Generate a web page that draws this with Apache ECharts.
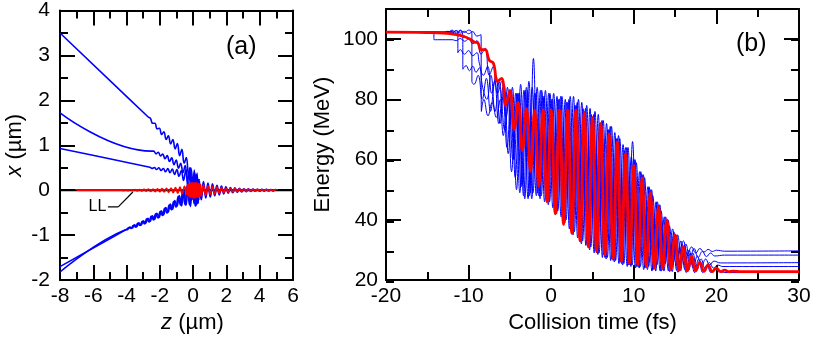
<!DOCTYPE html>
<html>
<head>
<meta charset="utf-8">
<script src="https://cdn.jsdelivr.net/npm/echarts@6/dist/echarts.min.js"></script>
<style>
  html, body { margin: 0; padding: 0; background: #fff; }
  #chart { width: 830px; height: 339px; }
</style>
</head>
<body>
<div id="chart"></div>
<script>
// ---- panel (a): trajectories x(z) ----
const aZeroLine = [[-8, 0], [6, 0]];

const aBlue1 = [[-8,3.5],[-2.7,1.63],[-2.57,1.60],[-2.43,1.49],[-2.3,1.49],[-2.16,1.365],[-2.03,1.38],[-1.89,1.24],[-1.76,1.30],[-1.62,1.13],[-1.49,1.21],[-1.35,1.03],[-1.22,1.13],[-1.08,0.92],[-0.95,1.04],[-0.81,0.77],[-0.68,0.91],[-0.54,0.60],[-0.41,0.73],[-0.27,0.34],[-0.14,0.5],[0,0.0],[0.07,0.45],[0.14,-0.35],[0.21,0.35],[0.28,-0.3],[0.35,0.25]];
const aBlue2 = [[-8,1.72],[-2.5,0.87],[-2.37,0.87],[-2.23,0.81],[-2.1,0.845],[-1.96,0.765],[-1.83,0.805],[-1.69,0.70],[-1.56,0.77],[-1.42,0.64],[-1.29,0.72],[-1.15,0.57],[-1.02,0.67],[-0.88,0.49],[-0.75,0.60],[-0.61,0.39],[-0.48,0.55],[-0.34,0.2],[-0.21,0.5],[-0.07,-0.1],[0.06,0.4],[0.13,-0.32],[0.2,0.35],[0.27,-0.28],[0.34,0.2]];
const aBlue3 = [[-8,0.93],[-2.6,0.51],[-2.47,0.485],[-2.33,0.505],[-2.2,0.46],[-2.06,0.50],[-1.93,0.44],[-1.79,0.485],[-1.66,0.41],[-1.52,0.48],[-1.39,0.39],[-1.25,0.47],[-1.12,0.35],[-0.98,0.46],[-0.85,0.31],[-0.71,0.44],[-0.58,0.22],[-0.44,0.45],[-0.31,0.05],[-0.17,0.45],[-0.04,-0.2],[0.1,0.4],[0.17,-0.35],[0.24,0.38],[0.31,-0.28],[0.38,0.2]];
const aBlue4 = [[-8,-1.70],[-4,-0.87],[-3.87,-0.835],[-3.73,-0.85],[-3.6,-0.785],[-3.46,-0.82],[-3.33,-0.737],[-3.19,-0.786],[-3.06,-0.69],[-2.92,-0.752],[-2.79,-0.635],[-2.65,-0.707],[-2.52,-0.58],[-2.38,-0.662],[-2.25,-0.525],[-2.11,-0.617],[-1.98,-0.475],[-1.84,-0.563],[-1.71,-0.404],[-1.57,-0.509],[-1.44,-0.328],[-1.3,-0.436],[-1.17,-0.25],[-1.03,-0.375],[-0.9,-0.14],[-0.76,-0.33],[-0.63,-0.02],[-0.49,-0.32],[-0.36,0.1],[-0.22,-0.33],[-0.09,0.25],[0.05,-0.3],[0.12,0.35],[0.19,-0.33],[0.26,0.3],[0.33,-0.22]];
const aBlue5 = [[-8,-1.82],[-4.07,-0.88],[-3.93,-0.872],[-3.8,-0.822],[-3.66,-0.842],[-3.53,-0.772],[-3.4,-0.812],[-3.26,-0.725],[-3.13,-0.778],[-2.99,-0.68],[-2.86,-0.738],[-2.72,-0.624],[-2.59,-0.693],[-2.45,-0.569],[-2.32,-0.648],[-2.18,-0.514],[-2.05,-0.603],[-1.91,-0.459],[-1.78,-0.549],[-1.64,-0.388],[-1.51,-0.49],[-1.37,-0.306],[-1.24,-0.423],[-1.1,-0.228],[-0.97,-0.357],[-0.83,-0.12],[-0.7,-0.35],[-0.56,0.0],[-0.43,-0.34],[-0.29,0.15],[-0.16,-0.36],[-0.02,0.3],[0.12,-0.35],[0.19,0.35],[0.26,-0.3],[0.33,0.25]];
const aBlueTail = [[0.35,0.2],[0.49,-0.21],[0.62,0.19],[0.76,-0.17],[0.89,0.16],[1.03,-0.15],[1.16,0.14],[1.3,-0.12],[1.43,0.11],[1.57,-0.1],[1.7,0.09],[1.84,-0.08],[1.97,0.075],[2.11,-0.065],[2.24,0.06],[2.38,-0.055],[2.51,0.05],[2.65,-0.045],[2.78,0.04],[2.92,-0.035],[3.05,0.032],[3.19,-0.03],[3.32,0.028],[3.46,-0.026],[3.59,0.024],[3.73,-0.022],[3.86,0.02],[4.0,-0.02],[4.13,0.018],[4.27,-0.018],[4.4,0.016],[4.54,-0.016],[4.67,0.015],[4.81,-0.015],[4.94,0.014],[5.0,0]];
const aRed = [[-7,0],[-4.3,0],[-4.17,-0.007],[-4.03,0.009],[-3.9,-0.01],[-3.76,0.012],[-3.63,-0.012],[-3.49,0.014],[-3.36,-0.016],[-3.22,0.017],[-3.09,-0.018],[-2.95,0.02],[-2.82,-0.022],[-2.68,0.024],[-2.55,-0.026],[-2.41,0.028],[-2.28,-0.03],[-2.14,0.033],[-2.01,-0.035],[-1.87,0.038],[-1.74,-0.04],[-1.6,0.044],[-1.47,-0.047],[-1.33,0.05],[-1.2,-0.055],[-1.06,0.06],[-0.93,-0.065],[-0.79,0.07],[-0.66,-0.078],[-0.52,0.085],[-0.39,-0.095],[-0.35,0.12],[-0.31,-0.13],[-0.27,0.15],[-0.23,-0.15],[-0.19,0.16],[-0.15,-0.16],[-0.11,0.17],[-0.07,-0.17],[-0.03,0.17],[0.01,-0.17],[0.05,0.17],[0.09,-0.17],[0.13,0.17],[0.17,-0.17],[0.21,0.17],[0.25,-0.16],[0.29,0.16],[0.33,-0.15],[0.37,0.15],[0.41,-0.14],[0.45,0.14],[0.49,-0.13],[0.62,0.12],[0.76,-0.11],[0.89,0.1],[1.03,-0.09],[1.16,0.085],[1.3,-0.08],[1.43,0.07],[1.57,-0.065],[1.7,0.06],[1.84,-0.055],[1.97,0.05],[2.11,-0.045],[2.24,0.042],[2.38,-0.04],[2.51,0.036],[2.65,-0.034],[2.78,0.031],[2.92,-0.029],[3.05,0.027],[3.19,-0.025],[3.32,0.023],[3.46,-0.022],[3.59,0.021],[3.73,-0.02],[3.86,0.019],[4.0,-0.018],[4.13,0.017],[4.27,-0.016],[4.4,0.015],[4.54,-0.015],[4.67,0.014],[4.81,-0.014],[4.94,0.013],[5.0,0]];

// "LL" pointer in data coordinates
const aLLText = [-5.75, -0.36];
const aLLLeader = [[-5.12, -0.37], [-4.5, -0.37]];
const aLLArrow = [[-4.5, -0.37], [-3.62, -0.04]];

// ---- panel (b): energy vs collision time ----
const bRed = [[-20,102.3],[-15,102.2],[-13,102],[-11.5,101.5],[-10.5,100.8],[-9.8,100],[-9.3,99],[-8.9,98.8],[-8.5,96.5],[-8,96.5],[-7.5,93],[-7,92],[-6.5,86],[-6,87],[-5.5,78],[-5,83],[-4.5,70],[-4,79],[-3.5,63],[-3,77],[-2.5,56],[-2,76.5],[-1.5,51],[-1,76.5],[-0.5,46],[0,76.5],[0.5,42],[1,76.5],[1.5,38.5],[2,76.5],[2.5,35.5],[3,76.5],[3.5,33],[4,75.5],[4.5,31],[5,74],[5.5,29.5],[6,72],[6.5,28.3],[7,68.5],[7.5,27.2],[8,66],[8.5,26.3],[9,62],[9.5,25.5],[10,58],[10.5,25],[11,54],[11.5,24.5],[12,49],[12.5,24],[13,44.5],[13.5,23.8],[14,40],[14.5,23.5],[15,35],[15.5,23.3],[16,31],[16.5,23.1],[17,28],[17.5,23],[18,26],[18.5,22.9],[19,25],[19.5,22.8],[20,24],[20.5,22.8],[21,23.3],[21.5,22.8],[22,23],[23,22.8],[30,22.8]];
const bBlue1 = [[-20,102.3],[-14.2,102.3],[-14.2,99.8],[-12,99.8],[-11.5,99.5],[-11,100.2],[-10.5,99.3],[-10,100],[-9.5,98.5],[-9,99.5],[-8.5,95],[-8,97],[-7.5,88],[-7,91],[-6.5,82],[-6,86],[-5.5,74],[-5,83],[-4.5,60],[-4,82],[-3.5,52],[-3,84],[-2.5,49],[-2,82],[-1.5,48],[-1,81],[-0.5,47],[0,80],[0.5,45],[1,80],[1.5,41],[2,79],[2.5,37],[3,78],[3.5,34],[4,76],[4.5,31],[5,74],[5.5,29],[6,72],[6.5,27.5],[7,70],[7.5,26.5],[8,67],[8.5,25.5],[9,64],[9.5,25],[10,60],[10.5,24.5],[11,55],[11.5,25],[12,50],[12.5,26],[13,45],[13.5,27],[14,40],[14.5,28],[15,35],[15.5,29],[16,33],[16.5,28.5],[17,31],[17.5,29],[18,30.5],[18.5,29.3],[19,30.2],[19.5,29.5],[20,29.9],[21,29.6],[30,29.7]];
const bBlue2 = [[-20,102.3],[-13,102.3],[-12.5,102.6],[-12,102],[-11.5,102.8],[-11.3,102.3],[-11.3,95.5],[-11,96.5],[-10.5,95],[-10,96.2],[-9.5,94.5],[-9,95.5],[-8.7,92],[-8.2,88],[-7.7,91],[-7.2,82],[-6.7,88],[-6.2,72],[-5.7,85],[-5.2,62],[-4.7,84],[-4.2,50],[-3.7,85],[-3.2,47],[-2.7,86],[-2.2,49],[-1.7,84],[-1.2,48],[-0.7,83],[-0.2,46],[0.3,82],[0.8,43],[1.3,81],[1.8,40],[2.3,81],[2.8,36],[3.3,80],[3.8,33],[4.3,78],[4.8,31],[5.3,76],[5.8,29],[6.3,73],[6.8,27.5],[7.3,71],[7.8,26.5],[8.3,67],[8.8,25.5],[9.3,64],[9.8,25],[10.3,59],[10.8,24.5],[11.3,54],[11.8,24.5],[12.3,48],[12.8,25],[13.3,43],[13.8,25.5],[14.3,38],[14.8,26],[15.3,35],[15.8,26.5],[16.3,32],[16.8,27],[17.3,30.5],[17.8,27.5],[18.3,29.5],[18.8,27.8],[19.3,29],[19.8,28],[21,28.3],[30,28.3]];
const bBlue3 = [[-20,102.3],[-13,102.3],[-12,102.5],[-11.5,101.5],[-11,102.8],[-10.7,101],[-10.7,90],[-10.3,91.2],[-9.9,89.5],[-9.5,91],[-9.1,89],[-8.7,90.5],[-8.3,84],[-7.8,80],[-7.3,88],[-6.8,76],[-6.3,86],[-5.8,68],[-5.3,84],[-4.8,56],[-4.3,82],[-3.8,49],[-3.3,83],[-2.8,47],[-2.3,84],[-1.8,48],[-1.3,83],[-0.8,46],[-0.3,82],[0.2,44],[0.7,81],[1.2,41],[1.7,80],[2.2,37],[2.7,81],[3.2,34],[3.7,79],[4.2,31.5],[4.7,77],[5.2,29],[5.7,75],[6.2,27.5],[6.7,72],[7.2,26.5],[7.7,69],[8.2,25.5],[8.7,65],[9.2,24.5],[9.7,61],[10.2,24],[10.7,56],[11.2,23.5],[11.7,51],[12.2,23],[12.7,46],[13.2,23],[13.7,41],[14.2,23],[14.7,37],[15.2,23.2],[15.7,33],[16.2,23.5],[16.7,30],[17.2,24],[17.7,28],[18.2,24.5],[18.7,27],[19.2,25],[19.7,26.3],[20.5,25.7],[30,25.8]];
const bBlue4 = [[-20,102.3],[-12.5,102.3],[-12,103],[-11.5,102],[-11,103],[-10.5,102.2],[-10,103],[-9.6,102],[-9.6,86],[-9.35,85],[-8.85,88],[-8.35,80],[-7.85,87],[-7.35,76],[-6.85,86],[-6.35,72],[-5.85,84],[-5.35,64],[-4.85,83],[-4.35,54],[-3.85,82],[-3.35,48],[-2.85,83],[-2.35,47],[-1.85,82],[-1.35,47],[-0.85,81],[-0.35,45],[0.15,80],[0.65,42],[1.15,81],[1.65,39],[2.15,80],[2.65,35],[3.15,79],[3.65,32],[4.15,77],[4.65,30],[5.15,75],[5.65,28.5],[6.15,73],[6.65,27],[7.15,71],[7.65,26],[8.15,68],[8.65,25],[9.15,64],[9.65,24.5],[10.15,60],[10.65,24],[11.15,55],[11.65,23.5],[12.15,50],[12.65,23],[13.15,45],[13.65,23],[14.15,40],[14.65,22.8],[15.15,35],[15.65,23],[16.15,31.5],[16.65,23.2],[17.15,29],[17.65,23.5],[18.15,27],[18.65,23.8],[19.15,25.8],[19.65,24],[20.15,25],[20.8,24.5],[30,24.5]];
const bBlue5 = [[-20,102.3],[-12,102.3],[-11.5,102.8],[-11,102],[-10.5,102.6],[-10,101.8],[-9.5,102.5],[-9,101],[-8.5,101.5],[-8.45,76],[-8.15,80],[-7.65,74.5],[-7.15,79],[-6.65,74],[-6.15,80],[-5.65,70],[-5.15,81],[-4.65,60],[-4.15,82],[-3.65,51],[-3.15,83],[-2.65,48],[-2.15,93.6],[-1.65,49],[-1.15,83],[-0.65,47],[-0.15,82],[0.35,45],[0.85,80],[1.35,42],[1.85,79],[2.35,38],[2.85,78],[3.35,35],[3.85,77],[4.35,32],[4.85,75],[5.35,30],[5.85,72],[6.35,28.5],[6.85,70],[7.35,27],[7.85,67],[8.35,26],[8.85,63],[9.35,25],[9.85,66],[10.35,24.5],[10.85,56],[11.35,24],[11.85,51],[12.35,23.5],[12.85,46],[13.35,23],[13.85,41],[14.35,22.8],[14.85,36],[15.35,22.6],[15.85,32],[16.35,22.5],[16.85,29],[17.35,22.5],[17.85,27],[18.35,22.5],[18.85,25],[19.35,22.5],[19.85,24],[20.5,23],[21,22.5],[30,22.5]];

const FONT = "'Liberation Sans', Arial, Helvetica, sans-serif";
const BLUE = "#0000ff";
const RED = "#ff0000";

const chart = echarts.init(document.getElementById("chart"), null, { renderer: "canvas" });

const frameAxis = (extra) =>
  Object.assign(
    {
      type: "value",
      axisLine: { show: true, onZero: false, lineStyle: { color: "#000", width: 2 } },
      axisTick: { show: true, inside: true, length: 15, lineStyle: { color: "#000", width: 2 } },
      minorTick: { show: true, splitNumber: 2, length: 8, lineStyle: { color: "#000", width: 2 } },
      axisLabel: { show: false },
      splitLine: { show: false },
      minorSplitLine: { show: false },
    },
    extra
  );

const tickLabel = (margin) => ({
  show: true,
  fontSize: 21,
  color: "#000",
  fontFamily: FONT,
  margin: margin,
});

const nameStyle = {
  fontSize: 22,
  color: "#000",
  fontFamily: FONT,
  rich: {
    i: { fontSize: 22, fontStyle: "italic", fontFamily: FONT, color: "#000" },
    n: { fontSize: 22, fontFamily: FONT, color: "#000" },
    pad: { width: 32 },
  },
};

const line = (data, color, width, extra) =>
  Object.assign(
    {
      type: "line",
      data: data,
      showSymbol: false,
      symbol: "none",
      smooth: 0.45,
      lineStyle: { color: color, width: width },
      itemStyle: { color: color },
      silent: true,
    },
    extra
  );

const aGrid = { xAxisIndex: 0, yAxisIndex: 0 };
const bGrid = { xAxisIndex: 2, yAxisIndex: 2 };
const minorOnly = {
  axisLine: { show: false, onZero: false },
  minorTick: { show: false },
  axisTick: { show: true, inside: true, length: 8, lineStyle: { color: "#000", width: 2 } },
};

const option = {
  animation: false,
  backgroundColor: "#fff",
  title: [
    { text: "(a)", left: 226, top: 35, padding: 0, textStyle: { fontSize: 25, fontWeight: "normal", fontFamily: FONT, color: "#000" } },
    { text: "(b)", left: 736, top: 32, padding: 0, textStyle: { fontSize: 25, fontWeight: "normal", fontFamily: FONT, color: "#000" } },
  ],
  grid: [
    { left: 60, top: 10, width: 233, height: 272 },
    { left: 386, top: 9, width: 413, height: 273 },
    { left: 386, top: 9, width: 413, height: 273 },
  ],
  xAxis: [
    frameAxis({
      gridIndex: 0, position: "bottom", min: -8, max: 6, interval: 2,
      axisLabel: tickLabel(6),
      name: "{pad|}{i|z}{n| (µm)}", nameLocation: "middle", nameGap: 30, nameTextStyle: nameStyle,
    }),
    frameAxis({ gridIndex: 0, position: "top", min: -8, max: 6, interval: 2 }),
    frameAxis({
      gridIndex: 1, position: "bottom", min: -20, max: 30, interval: 10,
      axisLabel: tickLabel(6),
      name: "Collision time (fs)", nameLocation: "middle", nameGap: 30, nameTextStyle: nameStyle,
    }),
    frameAxis({ gridIndex: 1, position: "top", min: -20, max: 30, interval: 10 }),
    frameAxis({ gridIndex: 2, show: false, min: -20, max: 30 }),
  ],
  yAxis: [
    frameAxis({
      gridIndex: 0, position: "left", min: -2, max: 4, interval: 1,
      axisLabel: tickLabel(10),
      name: "{i|x}{n| (µm)}", nameLocation: "middle", nameGap: 34, nameTextStyle: nameStyle,
    }),
    frameAxis({ gridIndex: 0, position: "right", min: -2, max: 4, interval: 1 }),
    frameAxis({
      gridIndex: 1, position: "left", min: 20, max: 110, interval: 20,
      minorTick: { show: false },
      axisLabel: Object.assign(tickLabel(8), { showMaxLabel: false }),
      name: "Energy (MeV)", nameLocation: "middle", nameGap: 52, nameTextStyle: nameStyle,
    }),
    frameAxis({ gridIndex: 1, position: "right", min: 20, max: 110, interval: 20, minorTick: { show: false } }),
    // minor ticks every 10 MeV on both sides of panel (b)
    frameAxis(Object.assign({ gridIndex: 2, position: "left", min: 20, max: 110, interval: 10 }, minorOnly)),
    frameAxis(Object.assign({ gridIndex: 2, position: "right", min: 20, max: 110, interval: 10 }, minorOnly)),
  ],
  series: [
    // panel (a)
    line(aZeroLine, "#000", 2, Object.assign({ smooth: false, z: 1 }, aGrid)),
    line(aBlue1, BLUE, 1.6, Object.assign({ z: 2 }, aGrid)),
    line(aBlue2, BLUE, 1.6, Object.assign({ z: 2 }, aGrid)),
    line(aBlue3, BLUE, 1.6, Object.assign({ z: 2 }, aGrid)),
    line(aBlue4, BLUE, 1.6, Object.assign({ z: 2 }, aGrid)),
    line(aBlue5, BLUE, 1.6, Object.assign({ z: 2 }, aGrid)),
    line(aBlueTail, BLUE, 1.8, Object.assign({ z: 2 }, aGrid)),
    line(aRed, RED, 1.6, Object.assign({ z: 3 }, aGrid)),
    line(aLLLeader, "#000", 1.2, Object.assign({
      smooth: false, z: 4,
      markLine: {
        silent: true, symbol: ["none", "arrow"], symbolSize: [0, 7],
        lineStyle: { color: "#000", width: 1.2, type: "solid" },
        label: { show: false },
        data: [[{ coord: aLLArrow[0] }, { coord: aLLArrow[1] }]],
      },
      markPoint: {
        silent: true, symbol: "circle", symbolSize: 0,
        label: { show: true, formatter: "LL", fontSize: 16, color: "#000", fontFamily: FONT, position: "inside" },
        data: [{ coord: aLLText }],
      },
    }, aGrid)),
    // panel (b)
    line(bBlue1, BLUE, 1, Object.assign({ z: 2 }, bGrid)),
    line(bBlue2, BLUE, 1, Object.assign({ z: 2 }, bGrid)),
    line(bBlue3, BLUE, 1, Object.assign({ z: 2 }, bGrid)),
    line(bBlue4, BLUE, 1, Object.assign({ z: 2 }, bGrid)),
    line(bBlue5, BLUE, 1, Object.assign({ z: 2 }, bGrid)),
    line(bRed, RED, 2.8, Object.assign({ z: 3 }, bGrid)),
  ],
};

chart.setOption(option);
</script>
</body>
</html>
